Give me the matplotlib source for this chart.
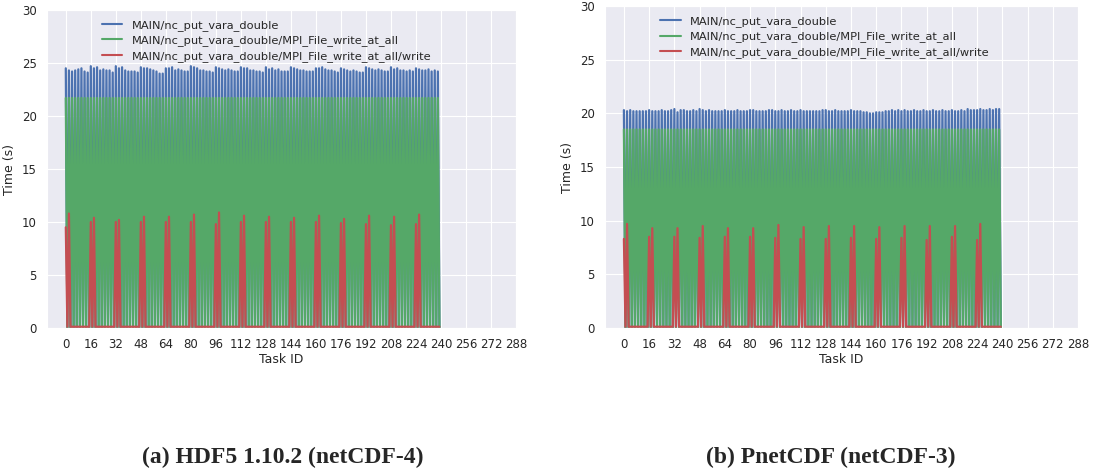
import numpy as np
import matplotlib.pyplot as plt
import seaborn as sns

sns.set_style("darkgrid")
plt.rcParams['font.family'] = ['DejaVu Sans']

# task ids 0..239, timers sampled per task (peak on even ids, ~0 on odd ids)
tasks = np.arange(240)
node_starts = np.arange(0, 240, 16)

# panel (a) HDF5 - peaks of MAIN/nc_put_vara_double (one per pair of tasks)
blue_peaks_a = [
    24.5, 24.3, 24.2, 24.3, 24.4, 24.5, 24.2, 24.1,
    24.7, 24.5, 24.6, 24.3, 24.4, 24.3, 24.3, 24.1,
    24.7, 24.5, 24.6, 24.3, 24.2, 24.2, 24.2, 24.1,
    24.6, 24.5, 24.5, 24.4, 24.3, 24.2, 24.0, 24.0,
    24.5, 24.5, 24.6, 24.3, 24.4, 24.3, 24.2, 24.2,
    24.7, 24.6, 24.5, 24.3, 24.3, 24.2, 24.2, 24.1,
    24.6, 24.5, 24.4, 24.3, 24.4, 24.3, 24.2, 24.2,
    24.6, 24.5, 24.5, 24.3, 24.3, 24.2, 24.2, 24.1,
    24.6, 24.4, 24.5, 24.3, 24.4, 24.2, 24.2, 24.2,
    24.6, 24.5, 24.4, 24.3, 24.3, 24.2, 24.2, 24.2,
    24.5, 24.5, 24.6, 24.4, 24.3, 24.3, 24.2, 24.1,
    24.5, 24.4, 24.3, 24.2, 24.3, 24.2, 24.1, 24.1,
    24.6, 24.5, 24.4, 24.3, 24.4, 24.3, 24.2, 24.2,
    24.6, 24.4, 24.5, 24.3, 24.3, 24.2, 24.3, 24.2,
    24.5, 24.4, 24.3, 24.3, 24.4, 24.2, 24.3, 24.2,
]
green_peaks_a = [21.7] * 120
red_first_a = [9.5, 10.0, 10.0, 10.0, 10.0, 10.0, 9.8, 10.0, 10.0, 10.0, 10.0, 9.9, 9.8, 9.7, 9.8]
red_second_a = [10.8, 10.4, 10.2, 10.5, 10.5, 10.7, 10.9, 10.6, 10.5, 10.4, 10.6, 10.3, 10.6, 10.5, 10.7]

# panel (b) PnetCDF
blue_peaks_b = [
    20.3, 20.2, 20.3, 20.2, 20.2, 20.2, 20.2, 20.2,
    20.3, 20.2, 20.2, 20.2, 20.3, 20.2, 20.2, 20.3,
    20.4, 20.1, 20.3, 20.3, 20.2, 20.2, 20.3, 20.2,
    20.4, 20.3, 20.2, 20.3, 20.2, 20.2, 20.2, 20.2,
    20.3, 20.2, 20.2, 20.2, 20.3, 20.2, 20.2, 20.2,
    20.3, 20.3, 20.2, 20.2, 20.2, 20.2, 20.3, 20.3,
    20.2, 20.2, 20.3, 20.2, 20.2, 20.3, 20.2, 20.2,
    20.3, 20.2, 20.2, 20.2, 20.2, 20.2, 20.2, 20.3,
    20.3, 20.2, 20.2, 20.3, 20.2, 20.2, 20.2, 20.2,
    20.3, 20.2, 20.2, 20.2, 20.1, 20.1, 20.0, 20.0,
    20.1, 20.1, 20.1, 20.2, 20.2, 20.3, 20.2, 20.3,
    20.2, 20.3, 20.2, 20.2, 20.3, 20.2, 20.2, 20.3,
    20.2, 20.2, 20.3, 20.2, 20.2, 20.3, 20.2, 20.2,
    20.3, 20.2, 20.2, 20.3, 20.2, 20.4, 20.3, 20.3,
    20.3, 20.4, 20.3, 20.3, 20.4, 20.3, 20.4, 20.4,
]
green_peaks_b = [18.5] * 120
red_first_b = [8.3, 8.5, 8.5, 8.4, 8.5, 8.5, 8.4, 8.3, 8.3, 8.4, 8.3, 8.4, 8.2, 8.5, 8.2]
red_second_b = [9.7, 9.3, 9.3, 9.5, 9.3, 9.3, 9.6, 9.4, 9.5, 9.5, 9.4, 9.5, 9.5, 9.5, 9.7]
red_base = 0.12  # small write time on non-aggregator tasks

labels = ["MAIN/nc_put_vara_double",
          "MAIN/nc_put_vara_double/MPI_File_write_at_all",
          "MAIN/nc_put_vara_double/MPI_File_write_at_all/write"]
colors = ["#4C72B0", "#55A868", "#C44E52"]
xticks = np.arange(0, 289, 16)


def series(peaks):
    y = np.zeros(len(tasks))
    y[0::2] = peaks
    return y


def red_series(first, second):
    y = np.full(len(tasks), red_base)
    y[node_starts] = first
    y[node_starts + 2] = second
    return y


fig = plt.figure(figsize=(10.94, 4.74), dpi=100)
ax_a = fig.add_axes([0.0430, 0.308, 0.4287, 0.6709])
ax_b = fig.add_axes([0.553, 0.308, 0.4324, 0.6793])

panels = [
    (ax_a, [series(blue_peaks_a), series(green_peaks_a), red_series(red_first_a, red_second_a)]),
    (ax_b, [series(blue_peaks_b), series(green_peaks_b), red_series(red_first_b, red_second_b)]),
]

for ax, ys in panels:
    for y, c, lab in zip(ys, colors, labels):
        ax.plot(tasks, y, color=c, lw=1.6, label=lab)
    ax.set_xlim(-12, 288)
    ax.set_ylim(0, 30)
    ax.set_xticks(xticks)
    ax.set_yticks(np.arange(0, 31, 5))
    ax.tick_params(labelsize=8.5, pad=4, colors='#262626')
    ax.set_xlabel("Task ID", fontsize=9, labelpad=1, color='#262626')
    ax.set_ylabel("Time (s)", fontsize=9, labelpad=4, color='#262626')
    leg = ax.legend(loc='upper left', bbox_to_anchor=(0.095, 1.0), frameon=False,
                    fontsize=8.2, handlelength=1.8, labelspacing=0.38)
    for h in leg.get_lines():
        h.set_linewidth(1.5)

fig.text(0.258, 0.034, "(a) HDF5 1.10.2 (netCDF-4)", ha='center', va='center',
         fontsize=17, fontweight='bold', family='Liberation Serif')
fig.text(0.759, 0.034, "(b) PnetCDF (netCDF-3)", ha='center', va='center',
         fontsize=17, fontweight='bold', family='Liberation Serif')

fig.savefig("out.png", dpi=100)
